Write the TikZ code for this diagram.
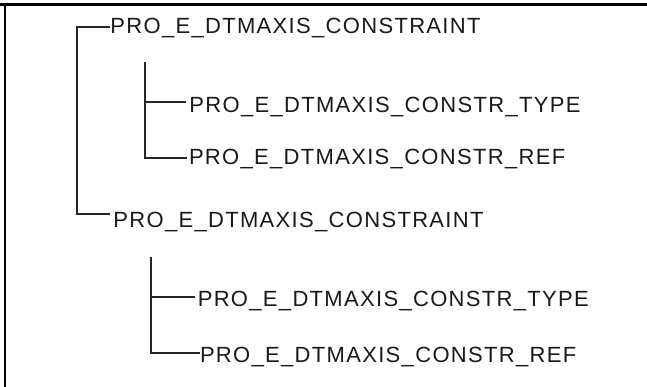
\documentclass[tikz,border=0pt]{standalone}
\usepackage{fontspec}
\setmainfont{Liberation Sans}[LetterSpace=6]
\begin{document}
\begin{tikzpicture}[x=1pt,y=-1pt,
  lbl/.style={anchor=base west, inner sep=0pt, font=\fontsize{22}{26}\selectfont, text=black!90},
  tree/.style={line width=1.4pt, draw=black!85}]
\useasboundingbox (0,0) rectangle (647,387);
% frame (top and left only)
\draw[line width=2.5pt, black] (0,4.5) -- (647,4.5);
\draw[line width=2pt, black] (5,3.5) -- (5,387);
% labels
\node[lbl] (r1)  at (110.2,34) {PRO\_E\_DTMAXIS\_CONSTRAINT};
\node[lbl] (c11) at (189.2,113) {PRO\_E\_DTMAXIS\_CONSTR\_TYPE};
\node[lbl] (c12) at (188.8,165) {PRO\_E\_DTMAXIS\_CONSTR\_REF};
\node[lbl] (r2)  at (113.2,227) {PRO\_E\_DTMAXIS\_CONSTRAINT};
\node[lbl] (c21) at (197.6,306) {PRO\_E\_DTMAXIS\_CONSTR\_TYPE};
\node[lbl] (c22) at (199.8,362) {PRO\_E\_DTMAXIS\_CONSTR\_REF};
% tree coordinates
\coordinate (a1) at (77,27);
\coordinate (a2) at (77,214);
\coordinate (b1) at (145,62);
\coordinate (b1m) at (145,102);
\coordinate (b1e) at (145,158);
\coordinate (b2) at (151,257);
\coordinate (b2m) at (151,297);
\coordinate (b2e) at (151,353);
% connectors
\draw[tree] ([xshift=-0.2pt]r1.west |- a1) -- (a1) -- (a2) -- ([xshift=-3.3pt]r2.west |- a2);
\draw[tree] (b1) -- (b1e) -- ([xshift=-1.8pt]c12.west |- b1e);
\draw[tree] (b1m) -- ([xshift=-3.2pt]c11.west |- b1m);
\draw[tree] (b2) -- (b2e) -- ([xshift=0.2pt]c22.west |- b2e);
\draw[tree] (b2m) -- ([xshift=-2.6pt]c21.west |- b2m);
\end{tikzpicture}
\end{document}
